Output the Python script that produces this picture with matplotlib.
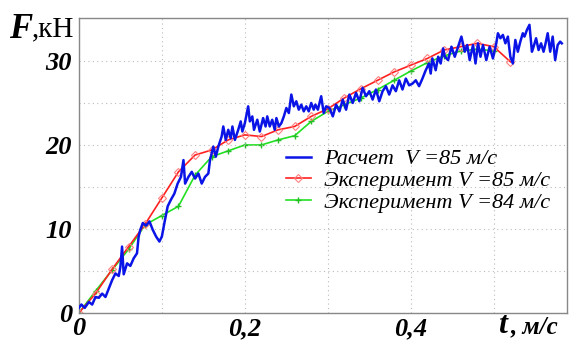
import numpy as np
import matplotlib
matplotlib.use("Agg")
import matplotlib.pyplot as plt

# calculated force (blue)
t_calc = [0.0, 0.003, 0.007, 0.012, 0.016, 0.020, 0.024, 0.028, 0.032, 0.036,
          0.040, 0.044, 0.048, 0.050, 0.052, 0.054, 0.058, 0.062, 0.066, 0.070,
          0.072, 0.074, 0.077, 0.081, 0.085, 0.089, 0.093, 0.097, 0.100, 0.103,
          0.107, 0.111, 0.115, 0.119, 0.123, 0.126, 0.128, 0.132, 0.136, 0.140,
          0.144, 0.148, 0.152, 0.156, 0.158, 0.162, 0.165, 0.168, 0.172, 0.174,
          0.177, 0.180, 0.183, 0.185, 0.188, 0.192, 0.195, 0.197, 0.200, 0.204,
          0.206, 0.209, 0.211, 0.215, 0.218, 0.222, 0.225, 0.227, 0.230, 0.233,
          0.236, 0.238, 0.241, 0.244, 0.247, 0.250, 0.253, 0.256, 0.259, 0.262,
          0.265, 0.268, 0.271, 0.274, 0.277, 0.280, 0.283, 0.285, 0.288, 0.292,
          0.295, 0.298, 0.302, 0.306, 0.310, 0.314, 0.318, 0.322, 0.326, 0.330,
          0.334, 0.338, 0.342, 0.346, 0.350, 0.354, 0.358, 0.362, 0.366, 0.370,
          0.374, 0.378, 0.382, 0.386, 0.390, 0.394, 0.398, 0.402, 0.406, 0.410,
          0.414, 0.418, 0.422, 0.424, 0.426, 0.430, 0.433, 0.436, 0.439, 0.441,
          0.445, 0.449, 0.453, 0.457, 0.461, 0.465, 0.468, 0.471, 0.475, 0.478,
          0.481, 0.484, 0.487, 0.491, 0.495, 0.499, 0.503, 0.505, 0.508, 0.511,
          0.514, 0.517, 0.520, 0.523, 0.526, 0.529, 0.532, 0.535, 0.537, 0.540,
          0.543, 0.546, 0.548, 0.551, 0.554, 0.557, 0.560, 0.562, 0.565, 0.568,
          0.571, 0.574, 0.577, 0.580, 0.582]
f_calc = [0.6, 1.0, 0.6, 1.3, 1.0, 1.9, 1.8, 2.3, 1.9, 2.9,
          3.9, 4.7, 4.4, 5.5, 7.9, 4.6, 5.9, 5.6, 6.5, 7.1,
          9.1, 9.9, 10.7, 10.4, 10.9, 9.9, 9.1, 8.5, 9.1, 10.7,
          12.7, 13.5, 14.2, 15.4, 16.2, 18.2, 15.4, 16.2, 16.8, 16.0,
          16.6, 15.4, 16.2, 16.6, 18.2, 19.8, 18.6, 19.8, 21.0, 22.2,
          20.6, 21.8, 20.8, 22.2, 20.6, 21.8, 22.8, 21.6, 22.6, 24.6,
          22.8, 23.4, 21.8, 23.0, 21.6, 23.2, 22.2, 23.4, 22.2, 23.0,
          21.8, 23.2, 22.2, 22.6, 23.4, 24.4, 23.8, 26.0, 24.6, 25.2,
          24.2, 24.8, 24.0, 24.6, 24.0, 25.0, 24.2, 24.8, 24.2, 25.8,
          23.8, 24.6, 24.4, 23.4, 24.8, 24.0, 25.4, 24.2, 26.0, 25.0,
          26.2, 25.2, 26.8, 25.8, 26.4, 25.4, 26.6, 25.2, 26.4, 27.0,
          26.0, 27.1, 26.4, 27.7, 26.6, 27.9, 27.1, 27.3, 27.7, 27.0,
          27.9, 28.9, 29.7, 28.5, 30.3, 28.9, 30.5, 29.7, 31.5, 30.5,
          30.1, 31.7, 30.5, 31.7, 32.9, 31.1, 31.9, 30.1, 31.9, 29.7,
          32.1, 30.5, 31.9, 30.1, 31.7, 30.3, 32.1, 33.3, 32.7, 33.1,
          32.1, 32.9, 30.5, 29.7, 32.5, 31.1, 32.3, 33.3, 32.9, 33.7,
          34.3, 31.1, 31.7, 32.7, 31.3, 32.1, 31.1, 31.9, 33.3, 31.1,
          32.9, 30.1, 31.9, 32.3, 32.1]

# experiment V=85 (red)
t_exp85 = [0.0, 0.02, 0.04, 0.06, 0.08, 0.10, 0.12, 0.14, 0.16, 0.18,
           0.20, 0.22, 0.24, 0.26, 0.28, 0.30, 0.32, 0.34, 0.36, 0.38,
           0.40, 0.42, 0.44, 0.46, 0.48, 0.50, 0.52]
f_exp85 = [0.0, 2.3, 5.2, 7.9, 10.6, 13.7, 16.8, 18.8, 19.4, 20.6,
           21.2, 21.0, 21.8, 22.2, 23.4, 24.3, 25.6, 26.7, 27.7, 28.7,
           29.5, 30.3, 31.3, 31.7, 32.1, 31.7, 29.9]

# experiment V=84 (green)
t_exp84 = [0.0, 0.02, 0.04, 0.06, 0.08, 0.10, 0.12, 0.14, 0.16, 0.18,
           0.20, 0.22, 0.24, 0.26, 0.28, 0.30, 0.32, 0.34, 0.36, 0.38,
           0.40, 0.42, 0.44, 0.46, 0.48, 0.50]
f_exp84 = [0.0, 2.6, 5.1, 7.6, 10.5, 11.6, 12.7, 16.4, 18.6, 19.3,
           20.0, 20.0, 20.6, 21.1, 22.8, 24.0, 24.8, 25.6, 26.6, 27.7,
           28.8, 29.8, 30.6, 31.2, 31.4, 31.2]

labels = ["Расчет  V =85 м/с", "Эксперимент V =85 м/с", "Эксперимент V =84 м/с"]

plt.rcParams['font.family'] = ['Liberation Serif', 'DejaVu Serif']

fig = plt.figure(figsize=(5.76, 3.42), dpi=100)
ax = fig.add_axes([0.137, 0.085, 0.847, 0.862])

ax.plot(t_calc, f_calc, color='#0a14e6', lw=1.8, label=labels[0], zorder=3)
ax.plot(t_exp85, f_exp85, color='#ff2020', lw=1.2, marker='D', ms=4.5,
        mfc='none', mec='#ff8080', mew=0.8, label=labels[1], zorder=2)
ax.plot(t_exp84, f_exp84, color='#22e022', lw=1.2, marker='+', ms=5,
        mec='#22c022', label=labels[2], zorder=1)

ax.set_xlim(0, 0.588)
ax.set_ylim(0, 35.1)

ax.set_xticks([0, 0.1, 0.2, 0.3, 0.4, 0.5])
ax.set_xticklabels(["0", "", "0,2", "", "0,4", ""])
ax.set_yticks([0, 5, 10, 15, 20, 25, 30])
ax.set_yticklabels(["0", "", "10", "", "20", "", "30"])
ax.tick_params(length=0)
ax.tick_params(axis='y', pad=5)
ax.tick_params(axis='x', pad=3)
for lab in ax.get_xticklabels() + ax.get_yticklabels():
    lab.set_fontsize(19)
    lab.set_fontweight('bold')
    lab.set_fontstyle('italic')

ax.grid(True, color='#bbbbbb', linestyle=(0, (1, 3)), lw=0.8)
for s in ax.spines.values():
    s.set_color('#888888')
    s.set_linewidth(1.0)

fig.text(0.015, 0.89, "F", fontsize=25, fontweight='bold', fontstyle='italic')
fig.text(0.055, 0.895, ",кН", fontsize=21)
fig.text(0.865, 0.025, "t", fontsize=23, fontweight='bold', fontstyle='italic')
fig.text(0.887, 0.025, ", м/с", fontsize=18, fontweight='bold', fontstyle='italic')

leg = ax.legend(loc='upper left', bbox_to_anchor=(0.497, 0.565),
                bbox_transform=fig.transFigure, frameon=False,
                prop={'size': 16, 'style': 'italic'}, handlelength=1.1,
                labelspacing=0.05, handletextpad=0.6, borderaxespad=0,
                borderpad=0)

fig.savefig("out.png", dpi=100)
